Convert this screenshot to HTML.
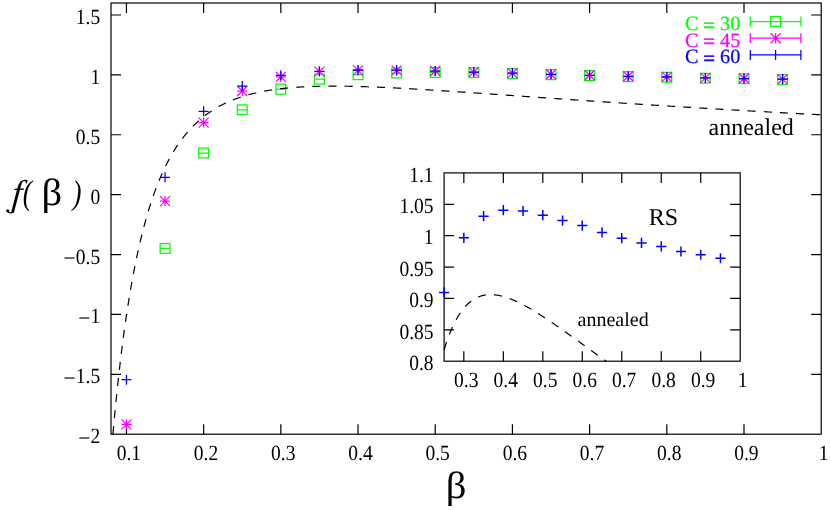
<!DOCTYPE html>
<html><head><meta charset="utf-8"><title>f(beta)</title>
<style>
html,body{margin:0;padding:0;background:#fff;}
svg{display:block;will-change:transform;}
text{font-family:"Liberation Serif",serif;text-rendering:geometricPrecision;}
.t20{font-size:20px;}
.t21{font-size:21.7px;}
.t24{font-size:24px;}
.t36{font-size:36px;}
</style></head><body>
<svg width="830" height="510" viewBox="0 0 830 510">
<rect width="830" height="510" fill="#fff"/>
<rect x="111.00" y="3.00" width="710.20" height="431.20" fill="none" stroke="#000" stroke-width="1.20"/>
<text transform="translate(128.84,459.50) scale(0.9,1)" text-anchor="middle" class="t21">0.1</text>
<text transform="translate(206.03,459.50) scale(0.9,1)" text-anchor="middle" class="t21">0.2</text>
<text transform="translate(283.23,459.50) scale(0.9,1)" text-anchor="middle" class="t21">0.3</text>
<text transform="translate(360.43,459.50) scale(0.9,1)" text-anchor="middle" class="t21">0.4</text>
<text transform="translate(437.62,459.50) scale(0.9,1)" text-anchor="middle" class="t21">0.5</text>
<text transform="translate(514.82,459.50) scale(0.9,1)" text-anchor="middle" class="t21">0.6</text>
<text transform="translate(592.01,459.50) scale(0.9,1)" text-anchor="middle" class="t21">0.7</text>
<text transform="translate(669.21,459.50) scale(0.9,1)" text-anchor="middle" class="t21">0.8</text>
<text transform="translate(746.40,459.50) scale(0.9,1)" text-anchor="middle" class="t21">0.9</text>
<text transform="translate(823.60,459.50) scale(0.9,1)" text-anchor="middle" class="t21">1</text>
<text transform="translate(100.20,443.20) scale(0.9,1)" text-anchor="end" class="t21"><tspan style="font-size:24px" dy="2.3">−</tspan><tspan dy="-2.3">2</tspan></text>
<text transform="translate(100.20,383.31) scale(0.9,1)" text-anchor="end" class="t21"><tspan style="font-size:24px" dy="2.3">−</tspan><tspan dy="-2.3">1.5</tspan></text>
<text transform="translate(100.20,323.42) scale(0.9,1)" text-anchor="end" class="t21"><tspan style="font-size:24px" dy="2.3">−</tspan><tspan dy="-2.3">1</tspan></text>
<text transform="translate(100.20,263.53) scale(0.9,1)" text-anchor="end" class="t21"><tspan style="font-size:24px" dy="2.3">−</tspan><tspan dy="-2.3">0.5</tspan></text>
<text transform="translate(100.20,203.64) scale(0.9,1)" text-anchor="end" class="t21">0</text>
<text transform="translate(100.20,143.76) scale(0.9,1)" text-anchor="end" class="t21">0.5</text>
<text transform="translate(100.20,83.87) scale(0.9,1)" text-anchor="end" class="t21">1</text>
<text transform="translate(100.20,23.98) scale(0.9,1)" text-anchor="end" class="t21">1.5</text>
<path d="M126.44,434.20 v-10.00 M126.44,3.00 v10.00 M203.63,434.20 v-10.00 M203.63,3.00 v10.00 M280.83,434.20 v-10.00 M280.83,3.00 v10.00 M358.03,434.20 v-10.00 M358.03,3.00 v10.00 M435.22,434.20 v-10.00 M435.22,3.00 v10.00 M512.42,434.20 v-10.00 M512.42,3.00 v10.00 M589.61,434.20 v-10.00 M589.61,3.00 v10.00 M666.81,434.20 v-10.00 M666.81,3.00 v10.00 M744.00,434.20 v-10.00 M744.00,3.00 v10.00 M111.00,374.31 h10.00 M821.20,374.31 h-10.00 M111.00,314.42 h10.00 M821.20,314.42 h-10.00 M111.00,254.53 h10.00 M821.20,254.53 h-10.00 M111.00,194.64 h10.00 M821.20,194.64 h-10.00 M111.00,134.76 h10.00 M821.20,134.76 h-10.00 M111.00,74.87 h10.00 M821.20,74.87 h-10.00 M111.00,14.98 h10.00 M821.20,14.98 h-10.00" fill="none" stroke="#000" stroke-width="1.20"/>
<path d="M160.14,243.50 h9.80 v9.80 h-9.80 z M160.14,248.40 h9.80 M198.73,148.10 h9.80 v9.80 h-9.80 z M198.73,153.00 h9.80 M237.33,104.90 h9.80 v9.80 h-9.80 z M237.33,109.80 h9.80 M275.93,84.20 h9.80 v9.80 h-9.80 z M275.93,89.10 h9.80 M314.53,74.20 h9.80 v9.80 h-9.80 z M314.53,79.10 h9.80 M353.13,69.70 h9.80 v9.80 h-9.80 z M353.13,74.60 h9.80 M391.72,68.10 h9.80 v9.80 h-9.80 z M391.72,73.00 h9.80 M430.32,67.50 h9.80 v9.80 h-9.80 z M430.32,72.40 h9.80 M468.92,67.90 h9.80 v9.80 h-9.80 z M468.92,72.80 h9.80 M507.52,68.70 h9.80 v9.80 h-9.80 z M507.52,73.60 h9.80 M546.12,69.70 h9.80 v9.80 h-9.80 z M546.12,74.60 h9.80 M584.71,70.70 h9.80 v9.80 h-9.80 z M584.71,75.60 h9.80 M623.31,71.70 h9.80 v9.80 h-9.80 z M623.31,76.60 h9.80 M661.91,72.30 h9.80 v9.80 h-9.80 z M661.91,77.20 h9.80 M700.51,73.30 h9.80 v9.80 h-9.80 z M700.51,78.20 h9.80 M739.10,73.90 h9.80 v9.80 h-9.80 z M739.10,78.80 h9.80 M777.70,74.50 h9.80 v9.80 h-9.80 z M777.70,79.40 h9.80 M750.30,21.50 H800.90 M750.30,16.50 v10 M800.90,16.50 v10 M770.70,16.60 h9.8 v9.8 h-9.8 z" fill="none" stroke="#00ff00" stroke-width="1.25"/>
<path d="M121.44,424.40 h10.00 M126.44,419.40 v10.00 M121.44,419.40 l10.00,10.00 M121.44,429.40 l10.00,-10.00 M160.04,201.10 h10.00 M165.04,196.10 v10.00 M160.04,196.10 l10.00,10.00 M160.04,206.10 l10.00,-10.00 M198.63,122.60 h10.00 M203.63,117.60 v10.00 M198.63,117.60 l10.00,10.00 M198.63,127.60 l10.00,-10.00 M237.23,91.00 h10.00 M242.23,86.00 v10.00 M237.23,86.00 l10.00,10.00 M237.23,96.00 l10.00,-10.00 M275.83,76.90 h10.00 M280.83,71.90 v10.00 M275.83,71.90 l10.00,10.00 M275.83,81.90 l10.00,-10.00 M314.43,71.60 h10.00 M319.43,66.60 v10.00 M314.43,66.60 l10.00,10.00 M314.43,76.60 l10.00,-10.00 M353.03,70.40 h10.00 M358.03,65.40 v10.00 M353.03,65.40 l10.00,10.00 M353.03,75.40 l10.00,-10.00 M391.62,70.40 h10.00 M396.62,65.40 v10.00 M391.62,65.40 l10.00,10.00 M391.62,75.40 l10.00,-10.00 M430.22,71.00 h10.00 M435.22,66.00 v10.00 M430.22,66.00 l10.00,10.00 M430.22,76.00 l10.00,-10.00 M468.82,72.10 h10.00 M473.82,67.10 v10.00 M468.82,67.10 l10.00,10.00 M468.82,77.10 l10.00,-10.00 M507.42,73.10 h10.00 M512.42,68.10 v10.00 M507.42,68.10 l10.00,10.00 M507.42,78.10 l10.00,-10.00 M546.02,74.30 h10.00 M551.02,69.30 v10.00 M546.02,69.30 l10.00,10.00 M546.02,79.30 l10.00,-10.00 M584.61,75.30 h10.00 M589.61,70.30 v10.00 M584.61,70.30 l10.00,10.00 M584.61,80.30 l10.00,-10.00 M623.21,76.30 h10.00 M628.21,71.30 v10.00 M623.21,71.30 l10.00,10.00 M623.21,81.30 l10.00,-10.00 M661.81,76.90 h10.00 M666.81,71.90 v10.00 M661.81,71.90 l10.00,10.00 M661.81,81.90 l10.00,-10.00 M700.41,77.90 h10.00 M705.41,72.90 v10.00 M700.41,72.90 l10.00,10.00 M700.41,82.90 l10.00,-10.00 M739.00,78.50 h10.00 M744.00,73.50 v10.00 M739.00,73.50 l10.00,10.00 M739.00,83.50 l10.00,-10.00 M777.60,79.10 h10.00 M782.60,74.10 v10.00 M777.60,74.10 l10.00,10.00 M777.60,84.10 l10.00,-10.00 M750.30,38.20 H800.90 M750.30,33.20 v10 M800.90,33.20 v10 M770.60,38.20 h10.00 M775.60,33.20 v10.00 M770.60,33.20 l10.00,10.00 M770.60,43.20 l10.00,-10.00" fill="none" stroke="#ff00ff" stroke-width="1.25"/>
<path d="M121.44,379.70 h10.00 M126.44,374.70 v10.00 M160.04,177.30 h10.00 M165.04,172.30 v10.00 M198.63,111.30 h10.00 M203.63,106.30 v10.00 M237.23,86.00 h10.00 M242.23,81.00 v10.00 M275.83,75.30 h10.00 M280.83,70.30 v10.00 M314.43,71.30 h10.00 M319.43,66.30 v10.00 M353.03,70.00 h10.00 M358.03,65.00 v10.00 M391.62,70.20 h10.00 M396.62,65.20 v10.00 M430.22,71.00 h10.00 M435.22,66.00 v10.00 M468.82,72.10 h10.00 M473.82,67.10 v10.00 M507.42,73.10 h10.00 M512.42,68.10 v10.00 M546.02,74.30 h10.00 M551.02,69.30 v10.00 M584.61,75.30 h10.00 M589.61,70.30 v10.00 M623.21,76.30 h10.00 M628.21,71.30 v10.00 M661.81,76.90 h10.00 M666.81,71.90 v10.00 M700.41,77.90 h10.00 M705.41,72.90 v10.00 M739.00,78.50 h10.00 M744.00,73.50 v10.00 M777.60,79.10 h10.00 M782.60,74.10 v10.00 M750.30,54.90 H800.90 M750.30,49.90 v10 M800.90,49.90 v10 M770.60,54.90 h10.00 M775.60,49.90 v10.00" fill="none" stroke="#0000ff" stroke-width="1.25"/>
<text x="740.3" y="30.00" text-anchor="end" class="t20" fill="#00ff00" stroke="#00ff00" stroke-width="0.25" style="font-size:20.3px">C <tspan dy="1.6" stroke-width="0.7">=</tspan><tspan dy="-1.6"> 30</tspan></text>
<text x="740.3" y="46.70" text-anchor="end" class="t20" fill="#ff00ff" stroke="#ff00ff" stroke-width="0.25" style="font-size:20.3px">C <tspan dy="1.6" stroke-width="0.7">=</tspan><tspan dy="-1.6"> 45</tspan></text>
<text x="740.3" y="63.40" text-anchor="end" class="t20" fill="#0000ff" stroke="#0000ff" stroke-width="0.25" style="font-size:20.3px">C <tspan dy="1.6" stroke-width="0.7">=</tspan><tspan dy="-1.6"> 60</tspan></text>
<path d="M112.93,434.20 L112.94,434.11 L113.12,432.08 L113.29,430.07 L113.47,428.06 L113.66,426.06 L113.84,424.08 L114.02,422.10 L114.20,420.13 L114.38,418.17 L114.57,416.22 L114.75,414.28 L114.93,412.34 L115.12,410.42 L115.30,408.51 L115.49,406.60 L115.67,404.71 L115.86,402.82 L116.05,400.94 L116.24,399.07 L116.42,397.21 L116.61,395.36 L116.80,393.52 L116.99,391.68 L117.18,389.86 L117.37,388.04 L117.57,386.23 L117.76,384.43 L117.95,382.64 L118.14,380.86 L118.34,379.09 L118.53,377.32 L118.73,375.57 L118.92,373.82 L119.12,372.08 L119.31,370.35 L119.51,368.62 L119.71,366.91 L119.91,365.20 L120.10,363.50 L120.30,361.81 L120.50,360.13 L120.70,358.45 L120.90,356.79 L121.11,355.13 L121.31,353.48 L121.51,351.84 L121.71,350.20 L121.92,348.58 L122.12,346.96 L122.33,345.35 L122.53,343.75 L122.74,342.15 L122.94,340.57 L123.15,338.99 L123.36,337.41 L123.57,335.85 L123.78,334.29 L123.98,332.75 L124.19,331.20 L124.41,329.67 L124.62,328.15 L124.83,326.63 L125.04,325.12 L125.25,323.61 L125.47,322.12 L125.68,320.63 L125.90,319.15 L126.11,317.67 L126.33,316.20 L126.54,314.74 L126.76,313.29 L126.98,311.85 L127.20,310.41 L127.42,308.98 L127.64,307.55 L127.86,306.14 L128.08,304.73 L128.30,303.33 L128.52,301.93 L128.74,300.54 L128.97,299.16 L129.19,297.79 L129.42,296.42 L129.64,295.06 L129.87,293.70 L130.09,292.35 L130.32,291.01 L130.55,289.68 L130.78,288.35 L131.01,287.03 L131.24,285.72 L131.47,284.41 L131.70,283.11 L131.93,281.82 L132.16,280.53 L132.40,279.25 L132.63,277.97 L132.86,276.71 L133.10,275.44 L133.33,274.19 L133.57,272.94 L133.81,271.70 L134.05,270.46 L134.28,269.23 L134.52,268.01 L134.76,266.79 L135.00,265.58 L135.24,264.38 L135.49,263.18 L135.73,261.99 L135.97,260.80 L136.21,259.62 L136.46,258.45 L136.70,257.28 L136.95,256.12 L137.20,254.96 L137.44,253.81 L137.69,252.67 L137.94,251.53 L138.19,250.40 L138.44,249.27 L138.69,248.15 L138.94,247.04 L139.19,245.93 L139.45,244.83 L139.70,243.73 L139.95,242.64 L140.21,241.55 L140.46,240.47 L140.72,239.40 L140.98,238.33 L141.24,237.27 L141.49,236.21 L141.75,235.16 L142.01,234.12 L142.27,233.08 L142.54,232.04 L142.80,231.01 L143.06,229.99 L143.32,228.97 L143.59,227.96 L143.85,226.95 L144.12,225.95 L144.39,224.95 L144.65,223.96 L144.92,222.97 L145.19,221.99 L145.46,221.01 L145.73,220.04 L146.00,219.08 L146.27,218.12 L146.55,217.16 L146.82,216.22 L147.09,215.27 L147.37,214.33 L147.64,213.40 L147.92,212.47 L148.20,211.54 L148.48,210.63 L148.76,209.71 L149.04,208.80 L149.32,207.90 L149.60,207.00 L149.88,206.11 L150.16,205.22 L150.45,204.33 L150.73,203.45 L151.02,202.58 L151.30,201.71 L151.59,200.84 L151.88,199.98 L152.16,199.13 L152.45,198.28 L152.74,197.43 L153.03,196.59 L153.33,195.75 L153.62,194.92 L153.91,194.09 L154.21,193.27 L154.50,192.45 L154.80,191.64 L155.09,190.83 L155.39,190.03 L155.69,189.23 L155.99,188.43 L156.29,187.64 L156.59,186.86 L156.89,186.07 L157.19,185.30 L157.50,184.52 L157.80,183.76 L158.11,182.99 L158.41,182.23 L158.72,181.48 L159.03,180.73 L159.33,179.98 L159.64,179.24 L159.95,178.50 L160.27,177.77 L160.58,177.04 L160.89,176.31 L161.20,175.59 L161.52,174.87 L161.83,174.16 L162.15,173.45 L162.47,172.75 L162.79,172.05 L163.11,171.35 L163.43,170.66 L163.75,169.97 L164.07,169.28 L164.39,168.60 L164.71,167.93 L165.04,167.26 L165.36,166.59 L165.69,165.92 L166.02,165.26 L166.35,164.61 L166.68,163.96 L167.01,163.31 L167.34,162.66 L167.67,162.02 L168.00,161.38 L168.33,160.75 L168.67,160.12 L169.00,159.50 L169.34,158.88 L169.68,158.26 L170.02,157.64 L170.36,157.03 L170.70,156.43 L171.04,155.82 L171.38,155.22 L171.72,154.63 L172.07,154.04 L172.41,153.45 L172.76,152.86 L173.11,152.28 L173.45,151.70 L173.80,151.13 L174.15,150.56 L174.50,149.99 L174.86,149.43 L175.21,148.87 L175.56,148.31 L175.92,147.76 L176.28,147.21 L176.63,146.66 L176.99,146.12 L177.35,145.58 L177.71,145.05 L178.07,144.51 L178.43,143.98 L178.80,143.46 L179.16,142.94 L179.52,142.42 L179.89,141.90 L180.26,141.39 L180.63,140.88 L181.00,140.37 L181.37,139.87 L181.74,139.37 L182.11,138.88 L182.48,138.38 L182.86,137.89 L183.23,137.41 L183.61,136.92 L183.99,136.44 L184.37,135.97 L184.74,135.49 L185.13,135.02 L185.51,134.55 L185.89,134.09 L186.27,133.63 L186.66,133.17 L187.05,132.71 L187.43,132.26 L187.82,131.81 L188.21,131.37 L188.60,130.92 L188.99,130.48 L189.39,130.05 L189.78,129.61 L190.17,129.18 L190.57,128.75 L190.97,128.33 L191.37,127.90 L191.77,127.48 L192.17,127.07 L192.57,126.65 L192.97,126.24 L193.37,125.83 L193.78,125.43 L194.19,125.02 L194.59,124.62 L195.00,124.23 L195.41,123.83 L195.82,123.44 L196.23,123.05 L196.65,122.67 L197.06,122.28 L197.48,121.90 L197.89,121.52 L198.31,121.15 L198.73,120.78 L199.15,120.41 L199.57,120.04 L199.99,119.67 L200.42,119.31 L200.84,118.95 L201.27,118.59 L201.70,118.24 L202.12,117.89 L202.55,117.54 L202.98,117.19 L203.42,116.85 L203.85,116.51 L204.28,116.17 L204.72,115.83 L205.16,115.50 L205.59,115.17 L206.03,114.84 L206.47,114.51 L206.92,114.19 L207.36,113.87 L207.80,113.55 L208.25,113.23 L208.70,112.92 L209.14,112.60 L209.59,112.29 L210.04,111.99 L210.50,111.68 L210.95,111.38 L211.40,111.08 L211.86,110.78 L212.32,110.49 L212.78,110.19 L213.23,109.90 L213.70,109.61 L214.16,109.33 L214.62,109.04 L215.09,108.76 L215.55,108.48 L216.02,108.21 L216.49,107.93 L216.96,107.66 L217.43,107.39 L217.90,107.12 L218.38,106.85 L218.85,106.59 L219.33,106.33 L219.81,106.07 L220.29,105.81 L220.77,105.56 L221.25,105.30 L221.73,105.05 L222.22,104.80 L222.70,104.56 L223.19,104.31 L223.68,104.07 L224.17,103.83 L224.66,103.59 L225.15,103.35 L225.65,103.12 L226.14,102.89 L226.64,102.66 L227.14,102.43 L227.64,102.20 L228.14,101.98 L228.64,101.75 L229.15,101.53 L229.65,101.31 L230.16,101.10 L230.67,100.88 L231.18,100.67 L231.69,100.46 L232.20,100.25 L232.72,100.04 L233.23,99.84 L233.75,99.64 L234.27,99.43 L234.79,99.24 L235.31,99.04 L235.83,98.84 L236.36,98.65 L236.88,98.46 L237.41,98.27 L237.94,98.08 L238.47,97.89 L239.00,97.71 L239.53,97.52 L240.07,97.34 L240.61,97.16 L241.14,96.99 L241.68,96.81 L242.22,96.64 L242.77,96.46 L243.31,96.29 L243.85,96.12 L244.40,95.96 L244.95,95.79 L245.50,95.63 L246.05,95.47 L246.60,95.31 L247.16,95.15 L247.72,94.99 L248.27,94.84 L248.83,94.68 L249.39,94.53 L249.96,94.38 L250.52,94.23 L251.09,94.08 L251.65,93.94 L252.22,93.79 L252.79,93.65 L253.36,93.51 L253.94,93.37 L254.51,93.23 L255.09,93.10 L255.67,92.96 L256.25,92.83 L256.83,92.70 L257.41,92.57 L258.00,92.44 L258.59,92.31 L259.17,92.19 L259.76,92.07 L260.36,91.94 L260.95,91.82 L261.54,91.70 L262.14,91.59 L262.74,91.47 L263.34,91.35 L263.94,91.24 L264.54,91.13 L265.15,91.02 L265.76,90.91 L266.36,90.80 L266.97,90.70 L267.59,90.59 L268.20,90.49 L268.81,90.39 L269.43,90.28 L270.05,90.19 L270.67,90.09 L271.29,89.99 L271.92,89.90 L272.54,89.80 L273.17,89.71 L273.80,89.62 L274.43,89.53 L275.06,89.44 L275.70,89.35 L276.33,89.27 L276.97,89.18 L277.61,89.10 L278.25,89.02 L278.90,88.94 L279.54,88.86 L280.19,88.78 L280.84,88.70 L281.49,88.63 L282.14,88.55 L282.80,88.48 L283.45,88.41 L284.11,88.34 L284.77,88.27 L285.43,88.20 L286.10,88.13 L286.76,88.07 L287.43,88.00 L288.10,87.94 L288.77,87.88 L289.45,87.82 L290.12,87.76 L290.80,87.70 L291.48,87.64 L292.16,87.59 L292.84,87.53 L293.52,87.48 L294.21,87.42 L294.90,87.37 L295.59,87.32 L296.28,87.27 L296.98,87.22 L297.67,87.18 L298.37,87.13 L299.07,87.09 L299.77,87.04 L300.48,87.00 L301.18,86.96 L301.89,86.92 L302.60,86.88 L303.31,86.84 L304.03,86.80 L304.74,86.77 L305.46,86.73 L306.18,86.70 L306.90,86.66 L307.63,86.63 L308.35,86.60 L309.08,86.57 L309.81,86.54 L310.54,86.51 L311.28,86.49 L312.01,86.46 L312.75,86.43 L313.49,86.41 L314.24,86.39 L314.98,86.36 L315.73,86.34 L316.48,86.32 L317.23,86.30 L317.98,86.29 L318.74,86.27 L319.49,86.25 L320.25,86.24 L321.01,86.22 L321.78,86.21 L322.54,86.20 L323.31,86.18 L324.08,86.17 L324.85,86.16 L325.63,86.16 L326.41,86.15 L327.19,86.14 L327.97,86.13 L328.75,86.13 L329.54,86.12 L330.32,86.12 L331.11,86.12 L331.90,86.12 L332.70,86.11 L333.50,86.11 L334.29,86.12 L335.10,86.12 L335.90,86.12 L336.70,86.12 L337.51,86.13 L338.32,86.13 L339.13,86.14 L339.95,86.14 L340.77,86.15 L341.59,86.16 L342.41,86.17 L343.23,86.18 L344.06,86.19 L344.89,86.20 L345.72,86.21 L346.55,86.23 L347.39,86.24 L348.22,86.25 L349.06,86.27 L349.91,86.28 L350.75,86.30 L351.60,86.32 L352.45,86.34 L353.30,86.36 L354.15,86.38 L355.01,86.40 L355.87,86.42 L356.73,86.44 L357.60,86.46 L358.46,86.49 L359.33,86.51 L360.20,86.54 L361.08,86.56 L361.95,86.59 L362.83,86.61 L363.71,86.64 L364.60,86.67 L365.48,86.70 L366.37,86.73 L367.26,86.76 L368.16,86.79 L369.05,86.82 L369.95,86.85 L370.85,86.89 L371.76,86.92 L372.66,86.96 L373.57,86.99 L374.48,87.03 L375.40,87.06 L376.32,87.10 L377.23,87.14 L378.16,87.18 L379.08,87.22 L380.01,87.25 L380.94,87.30 L381.87,87.34 L382.80,87.38 L383.74,87.42 L384.68,87.46 L385.62,87.51 L386.57,87.55 L387.52,87.59 L388.47,87.64 L389.42,87.68 L390.38,87.73 L391.34,87.78 L392.30,87.82 L393.26,87.87 L394.23,87.92 L395.20,87.97 L396.17,88.02 L397.15,88.07 L398.12,88.12 L399.10,88.17 L400.09,88.22 L401.07,88.28 L402.06,88.33 L403.05,88.38 L404.05,88.44 L405.04,88.49 L406.04,88.55 L407.05,88.60 L408.05,88.66 L409.06,88.71 L410.07,88.77 L411.09,88.83 L412.10,88.89 L413.12,88.95 L414.15,89.01 L415.17,89.06 L416.20,89.13 L417.23,89.19 L418.26,89.25 L419.30,89.31 L420.34,89.37 L421.38,89.43 L422.43,89.50 L423.48,89.56 L424.53,89.62 L425.59,89.69 L426.64,89.75 L427.70,89.82 L428.77,89.88 L429.83,89.95 L430.90,90.02 L431.98,90.08 L433.05,90.15 L434.13,90.22 L435.21,90.29 L436.30,90.36 L437.38,90.43 L438.48,90.50 L439.57,90.57 L440.67,90.64 L441.77,90.71 L442.87,90.78 L443.98,90.85 L445.08,90.93 L446.20,91.00 L447.31,91.07 L448.43,91.14 L449.55,91.22 L450.68,91.29 L451.81,91.37 L452.94,91.44 L454.07,91.52 L455.21,91.59 L456.35,91.67 L457.49,91.75 L458.64,91.82 L459.79,91.90 L460.95,91.98 L462.10,92.06 L463.26,92.14 L464.43,92.22 L465.59,92.30 L466.76,92.37 L467.94,92.45 L469.11,92.54 L470.29,92.62 L471.48,92.70 L472.66,92.78 L473.85,92.86 L475.05,92.94 L476.24,93.02 L477.44,93.11 L478.65,93.19 L479.85,93.27 L481.06,93.36 L482.28,93.44 L483.49,93.53 L484.72,93.61 L485.94,93.70 L487.17,93.78 L488.40,93.87 L489.63,93.95 L490.87,94.04 L492.11,94.13 L493.35,94.21 L494.60,94.30 L495.85,94.39 L497.11,94.48 L498.37,94.56 L499.63,94.65 L500.90,94.74 L502.16,94.83 L503.44,94.92 L504.71,95.01 L505.99,95.10 L507.28,95.19 L508.57,95.28 L509.86,95.37 L511.15,95.46 L512.45,95.55 L513.75,95.64 L515.06,95.74 L516.36,95.83 L517.68,95.92 L518.99,96.01 L520.31,96.11 L521.64,96.20 L522.97,96.29 L524.30,96.38 L525.63,96.48 L526.97,96.57 L528.31,96.67 L529.66,96.76 L531.01,96.86 L532.36,96.95 L533.72,97.05 L535.08,97.14 L536.45,97.24 L537.82,97.33 L539.19,97.43 L540.57,97.53 L541.95,97.62 L543.33,97.72 L544.72,97.82 L546.11,97.91 L547.51,98.01 L548.91,98.11 L550.31,98.21 L551.72,98.31 L553.13,98.40 L554.55,98.50 L555.97,98.60 L557.40,98.70 L558.82,98.80 L560.26,98.90 L561.69,99.00 L563.13,99.10 L564.58,99.20 L566.02,99.30 L567.48,99.40 L568.93,99.50 L570.39,99.60 L571.86,99.70 L573.33,99.80 L574.80,99.90 L576.28,100.00 L577.76,100.11 L579.24,100.21 L580.73,100.31 L582.23,100.41 L583.72,100.51 L585.23,100.62 L586.73,100.72 L588.24,100.82 L589.76,100.92 L591.28,101.03 L592.80,101.13 L594.33,101.23 L595.86,101.34 L597.39,101.44 L598.94,101.54 L600.48,101.65 L602.03,101.75 L603.58,101.86 L605.14,101.96 L606.70,102.07 L608.27,102.17 L609.84,102.28 L611.42,102.38 L613.00,102.49 L614.58,102.59 L616.17,102.70 L617.76,102.80 L619.36,102.91 L620.96,103.01 L622.57,103.12 L624.18,103.23 L625.80,103.33 L627.42,103.44 L629.04,103.54 L630.67,103.65 L632.30,103.76 L633.94,103.86 L635.59,103.97 L637.23,104.08 L638.89,104.19 L640.54,104.29 L642.21,104.40 L643.87,104.51 L645.54,104.61 L647.22,104.72 L648.90,104.83 L650.58,104.94 L652.27,105.05 L653.97,105.15 L655.67,105.26 L657.37,105.37 L659.08,105.48 L660.80,105.59 L662.51,105.70 L664.24,105.80 L665.97,105.91 L667.70,106.02 L669.44,106.13 L671.18,106.24 L672.93,106.35 L674.68,106.46 L676.44,106.57 L678.20,106.68 L679.97,106.79 L681.74,106.90 L683.52,107.01 L685.30,107.11 L687.09,107.22 L688.88,107.33 L690.68,107.44 L692.48,107.55 L694.29,107.66 L696.10,107.77 L697.92,107.88 L699.74,107.99 L701.57,108.10 L703.40,108.21 L705.24,108.33 L707.09,108.44 L708.93,108.55 L710.79,108.66 L712.65,108.77 L714.51,108.88 L716.38,108.99 L718.26,109.10 L720.14,109.21 L722.02,109.32 L723.91,109.43 L725.81,109.54 L727.71,109.65 L729.62,109.76 L731.53,109.88 L733.45,109.99 L735.37,110.10 L737.30,110.21 L739.23,110.32 L741.17,110.43 L743.11,110.54 L745.06,110.65 L747.02,110.77 L748.98,110.88 L750.95,110.99 L752.92,111.10 L754.90,111.21 L756.88,111.32 L758.87,111.44 L760.86,111.55 L762.86,111.66 L764.87,111.77 L766.88,111.88 L768.90,111.99 L770.92,112.11 L772.95,112.22 L774.98,112.33 L777.02,112.44 L779.07,112.55 L781.12,112.66 L783.17,112.78 L785.24,112.89 L787.30,113.00 L789.38,113.11 L791.46,113.22 L793.54,113.34 L795.64,113.45 L797.73,113.56 L799.84,113.67 L801.95,113.78 L804.06,113.90 L806.18,114.01 L808.31,114.12 L810.44,114.23 L812.58,114.34 L814.73,114.46 L816.88,114.57 L819.04,114.68 L821.20,114.79" fill="none" stroke="#000" stroke-width="1.2" stroke-dasharray="8.07 8.08"/>
<text x="708.5" y="134.6" class="t24">annealed</text>
<text x="648.7" y="225.2" class="t24">RS</text>
<text x="577.6" y="326.3" class="t20">annealed</text>
<text transform="translate(445.8,498.3) scale(1.13,1.055)" class="t36">β</text>
<text transform="translate(11.2,204.9) skewX(-5)" class="t36" font-style="italic">f</text>
<path d="M12.7,211.9 C11.7,213.3 9.2,213.3 7.8,211.6" fill="none" stroke="#000" stroke-width="1.3" stroke-linecap="round"/><circle cx="7.7" cy="210.8" r="1.5" fill="#000"/>
<text transform="translate(22.85,204.3) scale(0.75,0.95)" class="t36" font-style="italic">(</text>
<text transform="translate(41.5,204.9) scale(1.13,1.055)" class="t36">β</text>
<text transform="translate(72.5,204.3) scale(0.75,0.95)" class="t36" font-style="italic">)</text>
<rect x="444.10" y="172.90" width="296.10" height="188.30" fill="none" stroke="#000" stroke-width="1.20"/>
<text transform="translate(466.24,387.20) scale(0.9,1)" text-anchor="middle" class="t21">0.3</text>
<text transform="translate(505.72,387.20) scale(0.9,1)" text-anchor="middle" class="t21">0.4</text>
<text transform="translate(545.20,387.20) scale(0.9,1)" text-anchor="middle" class="t21">0.5</text>
<text transform="translate(584.68,387.20) scale(0.9,1)" text-anchor="middle" class="t21">0.6</text>
<text transform="translate(624.16,387.20) scale(0.9,1)" text-anchor="middle" class="t21">0.7</text>
<text transform="translate(663.64,387.20) scale(0.9,1)" text-anchor="middle" class="t21">0.8</text>
<text transform="translate(703.12,387.20) scale(0.9,1)" text-anchor="middle" class="t21">0.9</text>
<text transform="translate(742.60,387.20) scale(0.9,1)" text-anchor="middle" class="t21">1</text>
<text transform="translate(433.60,369.90) scale(0.9,1)" text-anchor="end" class="t21">0.8</text>
<text transform="translate(433.60,338.52) scale(0.9,1)" text-anchor="end" class="t21">0.85</text>
<text transform="translate(433.60,307.13) scale(0.9,1)" text-anchor="end" class="t21">0.9</text>
<text transform="translate(433.60,275.75) scale(0.9,1)" text-anchor="end" class="t21">0.95</text>
<text transform="translate(433.60,244.37) scale(0.9,1)" text-anchor="end" class="t21">1</text>
<text transform="translate(433.60,212.98) scale(0.9,1)" text-anchor="end" class="t21">1.05</text>
<text transform="translate(433.60,181.60) scale(0.9,1)" text-anchor="end" class="t21">1.1</text>
<path d="M463.84,361.20 v-10.00 M463.84,172.90 v10.00 M503.32,361.20 v-10.00 M503.32,172.90 v10.00 M542.80,361.20 v-10.00 M542.80,172.90 v10.00 M582.28,361.20 v-10.00 M582.28,172.90 v10.00 M621.76,361.20 v-10.00 M621.76,172.90 v10.00 M661.24,361.20 v-10.00 M661.24,172.90 v10.00 M700.72,361.20 v-10.00 M700.72,172.90 v10.00 M444.10,329.82 h10.00 M740.20,329.82 h-10.00 M444.10,298.43 h10.00 M740.20,298.43 h-10.00 M444.10,267.05 h10.00 M740.20,267.05 h-10.00 M444.10,235.67 h10.00 M740.20,235.67 h-10.00 M444.10,204.28 h10.00 M740.20,204.28 h-10.00" fill="none" stroke="#000" stroke-width="1.20"/>
<path d="M444.10,349.73 L444.33,348.99 L444.56,348.25 L444.79,347.52 L445.02,346.79 L445.25,346.07 L445.48,345.36 L445.71,344.65 L445.94,343.95 L446.17,343.26 L446.41,342.57 L446.64,341.88 L446.87,341.21 L447.11,340.53 L447.34,339.87 L447.58,339.21 L447.82,338.55 L448.05,337.91 L448.29,337.26 L448.53,336.63 L448.77,336.00 L449.01,335.37 L449.25,334.75 L449.49,334.14 L449.73,333.53 L449.97,332.93 L450.21,332.33 L450.45,331.74 L450.70,331.16 L450.94,330.57 L451.18,330.00 L451.43,329.43 L451.67,328.87 L451.92,328.31 L452.17,327.76 L452.41,327.21 L452.66,326.67 L452.91,326.13 L453.16,325.60 L453.41,325.07 L453.66,324.55 L453.91,324.04 L454.16,323.53 L454.41,323.02 L454.66,322.52 L454.91,322.03 L455.17,321.54 L455.42,321.05 L455.68,320.57 L455.93,320.10 L456.19,319.63 L456.44,319.17 L456.70,318.71 L456.96,318.25 L457.22,317.81 L457.47,317.36 L457.73,316.92 L457.99,316.49 L458.25,316.06 L458.51,315.64 L458.78,315.22 L459.04,314.80 L459.30,314.39 L459.57,313.99 L459.83,313.59 L460.09,313.19 L460.36,312.80 L460.63,312.42 L460.89,312.03 L461.16,311.66 L461.43,311.29 L461.69,310.92 L461.96,310.56 L462.23,310.20 L462.50,309.85 L462.77,309.50 L463.05,309.15 L463.32,308.81 L463.59,308.48 L463.86,308.15 L464.14,307.82 L464.41,307.50 L464.69,307.18 L464.96,306.87 L465.24,306.56 L465.52,306.26 L465.80,305.96 L466.07,305.66 L466.35,305.37 L466.63,305.09 L466.91,304.80 L467.20,304.53 L467.48,304.25 L467.76,303.98 L468.04,303.72 L468.33,303.46 L468.61,303.20 L468.90,302.95 L469.18,302.70 L469.47,302.45 L469.75,302.21 L470.04,301.98 L470.33,301.75 L470.62,301.52 L470.91,301.29 L471.20,301.07 L471.49,300.86 L471.78,300.65 L472.07,300.44 L472.37,300.23 L472.66,300.03 L472.96,299.84 L473.25,299.65 L473.55,299.46 L473.84,299.27 L474.14,299.09 L474.44,298.91 L474.74,298.74 L475.04,298.57 L475.33,298.41 L475.64,298.25 L475.94,298.09 L476.24,297.93 L476.54,297.78 L476.84,297.64 L477.15,297.49 L477.45,297.35 L477.76,297.22 L478.07,297.09 L478.37,296.96 L478.68,296.83 L478.99,296.71 L479.30,296.59 L479.61,296.48 L479.92,296.37 L480.23,296.26 L480.54,296.16 L480.85,296.06 L481.17,295.96 L481.48,295.87 L481.79,295.78 L482.11,295.69 L482.43,295.61 L482.74,295.53 L483.06,295.45 L483.38,295.38 L483.70,295.31 L484.02,295.25 L484.34,295.18 L484.66,295.13 L484.98,295.07 L485.31,295.02 L485.63,294.97 L485.95,294.92 L486.28,294.88 L486.60,294.84 L486.93,294.80 L487.26,294.77 L487.59,294.74 L487.92,294.71 L488.25,294.69 L488.58,294.67 L488.91,294.65 L489.24,294.64 L489.57,294.62 L489.91,294.62 L490.24,294.61 L490.57,294.61 L490.91,294.61 L491.25,294.61 L491.58,294.62 L491.92,294.63 L492.26,294.64 L492.60,294.66 L492.94,294.68 L493.28,294.70 L493.62,294.72 L493.97,294.75 L494.31,294.78 L494.66,294.82 L495.00,294.85 L495.35,294.89 L495.69,294.93 L496.04,294.98 L496.39,295.03 L496.74,295.08 L497.09,295.13 L497.44,295.19 L497.79,295.24 L498.14,295.31 L498.50,295.37 L498.85,295.44 L499.21,295.51 L499.56,295.58 L499.92,295.66 L500.28,295.73 L500.64,295.81 L500.99,295.90 L501.35,295.98 L501.71,296.07 L502.08,296.16 L502.44,296.26 L502.80,296.35 L503.17,296.45 L503.53,296.55 L503.90,296.66 L504.26,296.76 L504.63,296.87 L505.00,296.98 L505.37,297.10 L505.74,297.21 L506.11,297.33 L506.48,297.45 L506.85,297.58 L507.23,297.70 L507.60,297.83 L507.98,297.96 L508.35,298.10 L508.73,298.23 L509.11,298.37 L509.49,298.51 L509.87,298.66 L510.25,298.80 L510.63,298.95 L511.01,299.10 L511.39,299.25 L511.78,299.41 L512.16,299.56 L512.55,299.72 L512.93,299.88 L513.32,300.05 L513.71,300.21 L514.10,300.38 L514.49,300.55 L514.88,300.73 L515.27,300.90 L515.67,301.08 L516.06,301.26 L516.45,301.44 L516.85,301.62 L517.25,301.81 L517.64,302.00 L518.04,302.19 L518.44,302.38 L518.84,302.57 L519.24,302.77 L519.65,302.97 L520.05,303.17 L520.45,303.37 L520.86,303.57 L521.26,303.78 L521.67,303.99 L522.08,304.20 L522.49,304.41 L522.90,304.63 L523.31,304.84 L523.72,305.06 L524.13,305.28 L524.54,305.51 L524.96,305.73 L525.37,305.96 L525.79,306.19 L526.21,306.42 L526.63,306.65 L527.05,306.88 L527.47,307.12 L527.89,307.36 L528.31,307.59 L528.73,307.84 L529.16,308.08 L529.58,308.33 L530.01,308.57 L530.43,308.82 L530.86,309.07 L531.29,309.32 L531.72,309.58 L532.15,309.83 L532.58,310.09 L533.02,310.35 L533.45,310.61 L533.89,310.88 L534.32,311.14 L534.76,311.41 L535.20,311.68 L535.64,311.95 L536.08,312.22 L536.52,312.49 L536.96,312.77 L537.40,313.04 L537.85,313.32 L538.29,313.60 L538.74,313.88 L539.18,314.16 L539.63,314.45 L540.08,314.74 L540.53,315.02 L540.98,315.31 L541.44,315.61 L541.89,315.90 L542.34,316.19 L542.80,316.49 L543.26,316.79 L543.71,317.08 L544.17,317.38 L544.63,317.69 L545.09,317.99 L545.56,318.30 L546.02,318.60 L546.48,318.91 L546.95,319.22 L547.41,319.53 L547.88,319.84 L548.35,320.16 L548.82,320.47 L549.29,320.79 L549.76,321.11 L550.23,321.43 L550.71,321.75 L551.18,322.07 L551.66,322.39 L552.14,322.72 L552.61,323.05 L553.09,323.37 L553.57,323.70 L554.06,324.03 L554.54,324.37 L555.02,324.70 L555.51,325.03 L555.99,325.37 L556.48,325.71 L556.97,326.05 L557.46,326.39 L557.95,326.73 L558.44,327.07 L558.93,327.41 L559.43,327.76 L559.92,328.11 L560.42,328.45 L560.92,328.80 L561.41,329.15 L561.91,329.50 L562.41,329.86 L562.92,330.21 L563.42,330.56 L563.92,330.92 L564.43,331.28 L564.94,331.64 L565.44,332.00 L565.95,332.36 L566.46,332.72 L566.97,333.08 L567.49,333.45 L568.00,333.81 L568.52,334.18 L569.03,334.55 L569.55,334.92 L570.07,335.29 L570.59,335.66 L571.11,336.03 L571.63,336.40 L572.15,336.78 L572.68,337.15 L573.20,337.53 L573.73,337.91 L574.26,338.29 L574.79,338.67 L575.32,339.05 L575.85,339.43 L576.38,339.81 L576.92,340.19 L577.45,340.58 L577.99,340.97 L578.53,341.35 L579.07,341.74 L579.61,342.13 L580.15,342.52 L580.69,342.91 L581.24,343.30 L581.78,343.69 L582.33,344.09 L582.88,344.48 L583.43,344.88 L583.98,345.27 L584.53,345.67 L585.08,346.07 L585.64,346.47 L586.19,346.87 L586.75,347.27 L587.31,347.67 L587.87,348.08 L588.43,348.48 L588.99,348.89 L589.55,349.29 L590.12,349.70 L590.68,350.10 L591.25,350.51 L591.82,350.92 L592.39,351.33 L592.96,351.74 L593.53,352.15 L594.11,352.57 L594.68,352.98 L595.26,353.39 L595.84,353.81 L596.42,354.22 L597.00,354.64 L597.58,355.06 L598.16,355.48 L598.75,355.89 L599.33,356.31 L599.92,356.73 L600.51,357.15 L601.10,357.58 L601.69,358.00 L602.28,358.42 L602.88,358.85 L603.47,359.27 L604.07,359.70 L604.67,360.12 L605.27,360.55 L605.87,360.98 L606.18,361.20" fill="none" stroke="#000" stroke-width="1.2" stroke-dasharray="8.07 8.08"/>
<path d="M439.00,292.47 h10.20 M444.10,287.37 v10.20 M458.74,237.86 h10.20 M463.84,232.76 v10.20 M478.48,216.21 h10.20 M483.58,211.11 v10.20 M498.22,210.18 h10.20 M503.32,205.08 v10.20 M517.96,211.00 h10.20 M523.06,205.90 v10.20 M537.70,215.20 h10.20 M542.80,210.10 v10.20 M557.44,220.60 h10.20 M562.54,215.50 v10.20 M577.18,225.62 h10.20 M582.28,220.52 v10.20 M596.92,232.47 h10.20 M602.02,227.37 v10.20 M616.66,238.18 h10.20 M621.76,233.08 v10.20 M636.40,242.95 h10.20 M641.50,237.85 v10.20 M656.14,246.46 h10.20 M661.24,241.36 v10.20 M675.88,251.48 h10.20 M680.98,246.38 v10.20 M695.62,254.75 h10.20 M700.72,249.65 v10.20 M715.36,258.26 h10.20 M720.46,253.16 v10.20" fill="none" stroke="#0000ff" stroke-width="1.5"/>
</svg>
</body></html>
